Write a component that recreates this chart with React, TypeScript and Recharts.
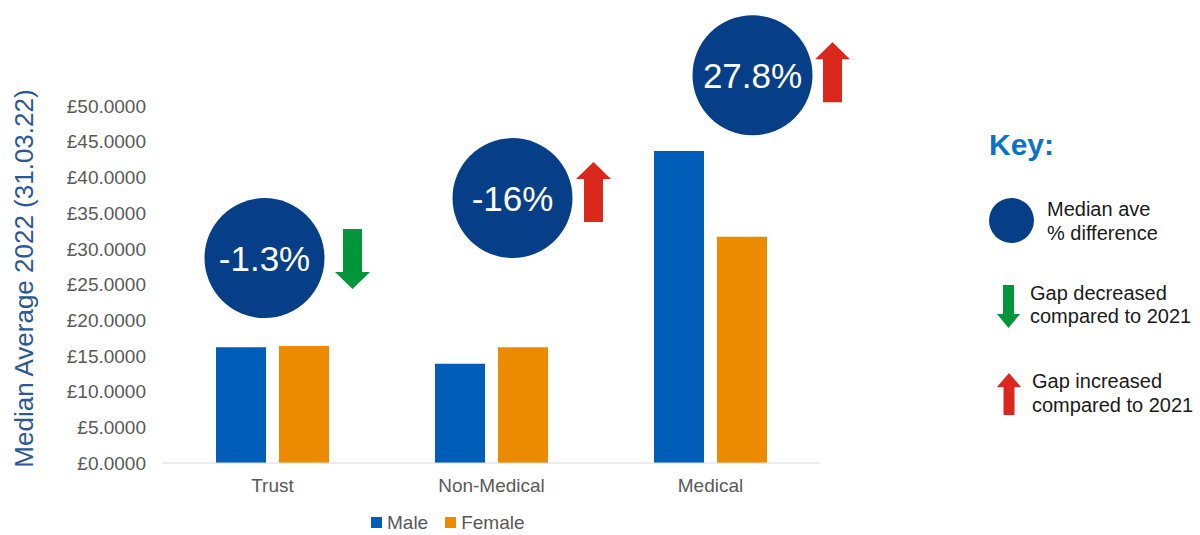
import React from 'react';
import { BarChart, Bar, XAxis, YAxis, Legend, ReferenceDot } from 'recharts';

const categories = ['Trust', 'Non-Medical', 'Medical'];
const maleValues = [16.2, 13.9, 43.7];
const femaleValues = [16.4, 16.2, 31.7];
const yTicks = [0, 5, 10, 15, 20, 25, 30, 35, 40, 45, 50];

// median average % difference + whether gap went up or down vs 2021
const diffLabels = ['-1.3%', '-16%', '27.8%'];
const gapTrend = ['down', 'up', 'up'];

// where each bubble sits (value units for height, px offset from the category centre)
const bubbleLevel = [28.7, 37.1, 54.3];
const bubbleDx = [-8, 21, 42];
const arrowDx = [88, 81, 80];
const arrowDy = [1, -6, -3];

const chartData = categories.map((name, i) => ({ name, male: maleValues[i], female: femaleValues[i] }));

const FONT = '"Liberation Sans", Arial, sans-serif';
const MALE = '#005EB8';
const FEMALE = '#ED8B00';
const DARK = '#063F87';
const GREEN = '#009639';
const RED = '#DA291C';

function arrowPoints(cx: number, top: number, h: number, shaftW: number, headW: number, headL: number, dir: string) {
    const s = shaftW / 2;
    const hw = headW / 2;
    if (dir === 'down') {
        const b = top + h - headL;
        return [
            [cx - s, top], [cx + s, top], [cx + s, b], [cx + hw, b],
            [cx, top + h], [cx - hw, b], [cx - s, b],
        ].map(p => p.join(',')).join(' ');
    }
    const b = top + headL;
    return [
        [cx, top], [cx + hw, b], [cx + s, b], [cx + s, top + h],
        [cx - s, top + h], [cx - s, b], [cx - hw, b],
    ].map(p => p.join(',')).join(' ');
}

const makeBubble = (i: number) => (props: any) => {
    const cx = props.cx + bubbleDx[i];
    const cy = props.cy;
    const ax = cx + arrowDx[i];
    const ay = cy + arrowDy[i] - 30;
    return (
        <g>
            <circle cx={cx} cy={cy} r={60} fill={DARK} />
            <text x={cx} y={cy + 12.5} textAnchor="middle" fill="#fff" fontSize={35} fontFamily={FONT}>
                {diffLabels[i]}
            </text>
            <polygon
                points={arrowPoints(ax, ay, 60, 19, 35, 17, gapTrend[i])}
                fill={gapTrend[i] === 'down' ? GREEN : RED}
            />
        </g>
    );
};

const YLabel = (props: any) => {
    const vb = props.viewBox || {};
    const x = (vb.x ?? 13) + 20;
    const y = (vb.y ?? 106) + (vb.height ?? 357) / 2 - 6;
    return (
        <text
            x={x}
            y={y}
            transform={`rotate(-90 ${x} ${y})`}
            textAnchor="middle"
            fill="#2B5797"
            fontSize={26}
            fontFamily={FONT}
        >
            Median Average 2022 (31.03.22)
        </text>
    );
};

const LegendContent = () => (
    <div style={{ display: 'flex', alignItems: 'center', fontFamily: FONT, fontSize: 19, lineHeight: '19px', color: '#595959' }}>
        <span style={{ width: 11, height: 11, background: MALE, display: 'inline-block', marginRight: 5 }} />
        <span style={{ marginRight: 17 }}>Male</span>
        <span style={{ width: 11, height: 11, background: FEMALE, display: 'inline-block', marginRight: 5 }} />
        <span>Female</span>
    </div>
);

export default function App() {
    return (
        <div style={{ position: 'absolute', left: 0, top: 0, width: 1200, height: 535, background: '#fff', overflow: 'hidden' }}>
            <BarChart
                width={1200}
                height={535}
                data={chartData}
                margin={{ top: 106, right: 380, bottom: 42, left: 13 }}
                barGap={13}
                barSize={50}
            >
                <XAxis
                    dataKey="name"
                    height={30}
                    tickLine={false}
                    axisLine={{ stroke: '#D9D9D9' }}
                    tickMargin={10}
                    tick={{ fill: '#595959', fontSize: 19, fontFamily: FONT }}
                />
                <YAxis
                    width={150}
                    domain={[0, 50]}
                    ticks={yTicks}
                    interval={0}
                    tickFormatter={(v: number) => `£${v.toFixed(4)}`}
                    axisLine={false}
                    tickLine={false}
                    tickMargin={11}
                    tick={{ fill: '#595959', fontSize: 19, fontFamily: FONT }}
                    label={YLabel}
                />
                <Bar dataKey="male" name="Male" fill={MALE} isAnimationActive={false} />
                <Bar dataKey="female" name="Female" fill={FEMALE} isAnimationActive={false} />
                {categories.map((c, i) => (
                    <ReferenceDot key={c} x={c} y={bubbleLevel[i]} r={60} ifOverflow="visible" shape={makeBubble(i)} />
                ))}
                <Legend
                    verticalAlign="middle"
                    layout="horizontal"
                    wrapperStyle={{ top: 513, left: 371, width: 'auto' }}
                    content={LegendContent}
                />
            </BarChart>
            <svg width={1200} height={535} style={{ position: 'absolute', left: 0, top: 0, pointerEvents: 'none' }}>
                <text x={989} y={155} fill="#0B72C6" fontSize={30} fontWeight="bold" fontFamily={FONT}>Key:</text>
                <circle cx={1011.5} cy={220.5} r={22.5} fill={DARK} />
                <text fontSize={20} fontFamily={FONT} fill="#1a1a1a">
                    <tspan x={1047} y={216}>Median ave</tspan>
                    <tspan x={1047} y={240}>% difference</tspan>
                </text>
                <polygon points={arrowPoints(1008.5, 285, 43, 11, 23, 14, 'down')} fill={GREEN} />
                <text fontSize={20} fontFamily={FONT} fill="#1a1a1a">
                    <tspan x={1030} y={300}>Gap decreased</tspan>
                    <tspan x={1030} y={323}>compared to 2021</tspan>
                </text>
                <polygon points={arrowPoints(1009, 373, 42, 11, 24, 14, 'up')} fill={RED} />
                <text fontSize={20} fontFamily={FONT} fill="#1a1a1a">
                    <tspan x={1032} y={388}>Gap increased</tspan>
                    <tspan x={1032} y={412}>compared to 2021</tspan>
                </text>
            </svg>
        </div>
    );
}
